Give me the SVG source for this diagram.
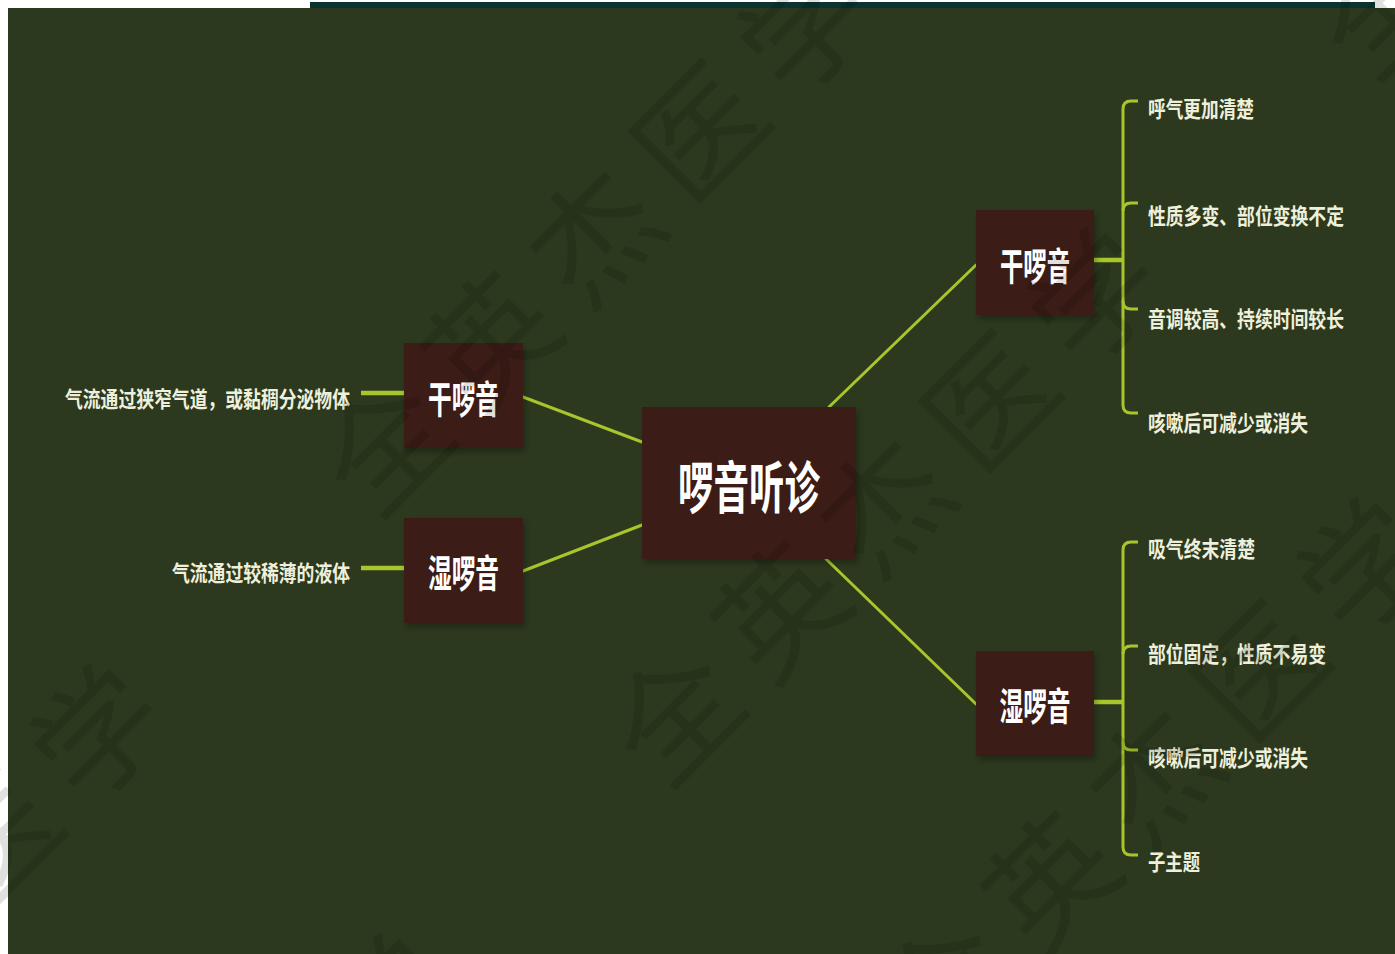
<svg xmlns="http://www.w3.org/2000/svg" width="1395" height="954" viewBox="0 0 1395 954">
<defs>
<style>
.node{fill:#3a1e12;}
.ntxt{fill:#ffffff;font-family:"Noto Sans CJK SC","Noto Sans",sans-serif;font-weight:700;text-anchor:middle;}
.sub{fill:#eef0dc;font-family:"Noto Sans CJK SC","Noto Sans",sans-serif;font-weight:700;font-size:22px;}
.thin{stroke:#a6c62c;stroke-width:3;fill:none;stroke-linecap:round;}
.thick{stroke:#a6c62c;stroke-width:4.5;fill:none;}
.br{stroke:#a6c62c;stroke-width:3;fill:none;}
.wm{fill:#000000;fill-opacity:0.12;font-family:"Noto Sans CJK SC",sans-serif;font-size:125px;text-anchor:middle;dominant-baseline:central;}
</style>
<filter id="sh" x="-20%" y="-20%" width="140%" height="140%">
<feDropShadow dx="2" dy="4" stdDeviation="3" flood-color="#000" flood-opacity="0.3"/>
</filter>
</defs>
<rect x="0" y="0" width="1395" height="954" fill="#ffffff"/>
<rect x="310" y="2" width="1065" height="6" fill="#0b3430"/>
<rect x="8" y="8" width="1387" height="946" fill="#2c391e"/>

<g id="connectors">
<line class="thin" x1="523" y1="397" x2="642" y2="442"/>
<line class="thin" x1="523" y1="571" x2="642" y2="525"/>
<line class="thin" x1="829" y1="407" x2="976" y2="265"/>
<line class="thin" x1="826" y1="559" x2="976" y2="704"/>
<line class="thick" x1="361" y1="393" x2="404" y2="393"/>
<line class="thick" x1="361" y1="568" x2="404" y2="568"/>
<line class="thick" x1="1094" y1="260" x2="1123" y2="260"/>
<line class="thick" x1="1094" y1="702" x2="1123" y2="702"/>
<path class="br" d="M1138,101 H1131 Q1123,101 1123,109 V405 Q1123,413 1131,413 H1138"/>
<path class="br" d="M1123,211 Q1123,203 1131,203 H1138"/>
<path class="br" d="M1123,301 Q1123,309 1131,309 H1138"/>
<path class="br" d="M1138,542 H1131 Q1123,542 1123,550 V847 Q1123,855 1131,855 H1138"/>
<path class="br" d="M1123,654 Q1123,646 1131,646 H1138"/>
<path class="br" d="M1123,742 Q1123,750 1131,750 H1138"/>
</g>

<g id="root">
<rect class="node" x="642" y="407" width="214" height="152" filter="url(#sh)"/>
<text class="ntxt" x="749" y="508" font-size="56" textLength="142" lengthAdjust="spacingAndGlyphs">啰音听诊</text>
</g>

<g id="left-dry">
<rect class="node" x="404" y="343" width="119" height="105" filter="url(#sh)"/>
<text class="ntxt" x="463.5" y="413" font-size="38" textLength="71" lengthAdjust="spacingAndGlyphs">干啰音</text>
</g>
<g id="left-dry-desc">
<text class="sub" x="350" y="406.5" text-anchor="end" textLength="285" lengthAdjust="spacingAndGlyphs">气流通过狭窄气道，或黏稠分泌物体</text>
</g>

<g id="left-wet">
<rect class="node" x="404" y="518" width="119" height="105" filter="url(#sh)"/>
<text class="ntxt" x="463.5" y="587" font-size="38" textLength="71" lengthAdjust="spacingAndGlyphs">湿啰音</text>
</g>
<g id="left-wet-desc">
<text class="sub" x="350" y="580.5" text-anchor="end" textLength="178" lengthAdjust="spacingAndGlyphs">气流通过较稀薄的液体</text>
</g>

<g id="right-dry">
<rect class="node" x="976" y="210" width="118" height="105" filter="url(#sh)"/>
<text class="ntxt" x="1035" y="280" font-size="38" textLength="70" lengthAdjust="spacingAndGlyphs">干啰音</text>
</g>
<g id="right-wet">
<rect class="node" x="976" y="651" width="118" height="105" filter="url(#sh)"/>
<text class="ntxt" x="1035" y="720" font-size="38" textLength="71" lengthAdjust="spacingAndGlyphs">湿啰音</text>
</g>

<g id="dry-1"><text class="sub" x="1148" y="116.5" textLength="106" lengthAdjust="spacingAndGlyphs">呼气更加清楚</text></g>
<g id="dry-2"><text class="sub" x="1148" y="223.5" textLength="196" lengthAdjust="spacingAndGlyphs">性质多变、部位变换不定</text></g>
<g id="dry-3"><text class="sub" x="1148" y="326.5" textLength="196" lengthAdjust="spacingAndGlyphs">音调较高、持续时间较长</text></g>
<g id="dry-4"><text class="sub" x="1148" y="430.5" textLength="160" lengthAdjust="spacingAndGlyphs">咳嗽后可减少或消失</text></g>

<g id="wet-1"><text class="sub" x="1148" y="556.5" textLength="107" lengthAdjust="spacingAndGlyphs">吸气终末清楚</text></g>
<g id="wet-2"><text class="sub" x="1148" y="661.5" textLength="178" lengthAdjust="spacingAndGlyphs">部位固定，性质不易变</text></g>
<g id="wet-3"><text class="sub" x="1148" y="765.5" textLength="160" lengthAdjust="spacingAndGlyphs">咳嗽后可减少或消失</text></g>
<g id="wet-4"><text class="sub" x="1148" y="869.5" textLength="52" lengthAdjust="spacingAndGlyphs">子主题</text></g>

<g id="watermark">
<text class="wm" transform="translate(380,440) rotate(-45)" x="-999 -851 -703 -555 -407 0 148 296 444 592" y="0">全英杰医学全英杰医学</text>
<text class="wm" transform="translate(670,710) rotate(-45)" x="-555 -407 0 148 296 444 592 999 1147" y="0">医学全英杰医学全英</text>
<text class="wm" transform="translate(940,980) rotate(-45)" x="0 148 296 444 592" y="0">全英杰医学</text>
</g>
</svg>
